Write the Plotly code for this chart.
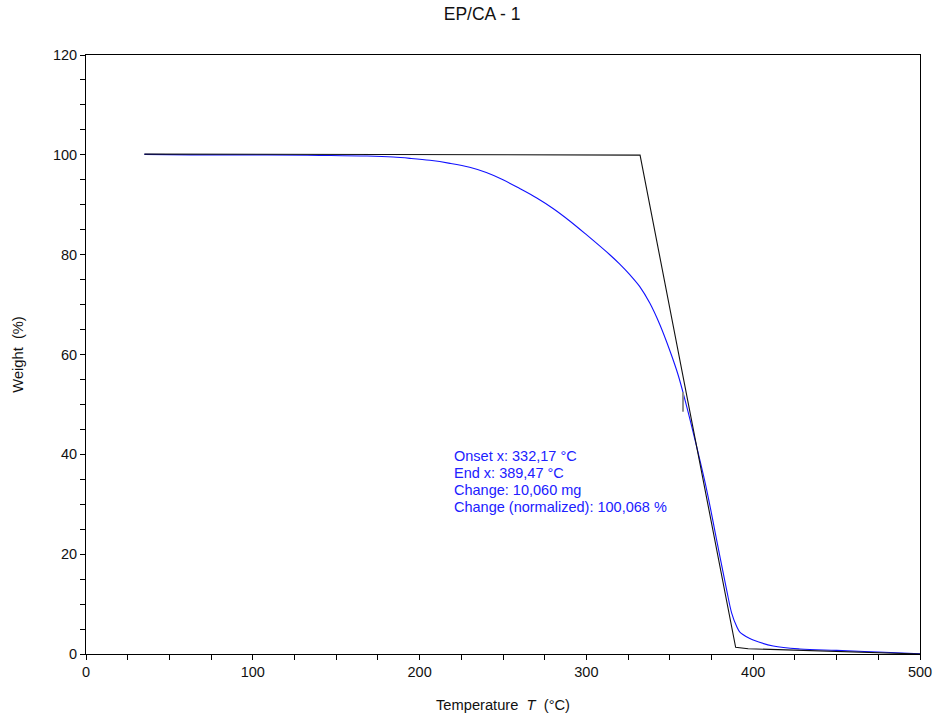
import plotly.graph_objects as go

# Measured TGA curve (blue)
tga_T = [35, 63, 109, 140, 168.5, 184.1, 194.2, 206.2, 218.2, 230, 240, 250, 260,
         270, 280, 290, 300, 314.2, 320, 326, 332, 338, 344, 350, 355, 359.1, 365.1,
         372.1, 378.1, 384.1, 387.1, 390.1, 392, 398, 400, 412, 428, 450, 475, 500]
tga_W = [100.1, 100.0, 100.0, 99.9, 99.76, 99.56, 99.30, 98.90, 98.29, 97.5, 96.45, 95.0, 93.25,
         91.4, 89.25, 86.75, 84.0, 79.93, 78.1, 76.0, 73.6, 70.3, 66.0, 60.8, 55.9, 50.9, 42.9,
         32.9, 22.8, 12.8, 8.2, 5.5, 4.4, 3.1, 2.8, 1.6, 1.0, 0.72, 0.4, 0.05]

# Onset / end construction line (black)
step_T = [35, 332.17, 389.47, 397, 500]
step_W = [100.15, 99.95, 1.35, 1.06, 0.0]

# Inflection marker (gray)
infl_T = [357.9]
infl_W = [50.5]

x_ticks = [0, 100, 200, 300, 400, 500]
y_ticks = [0, 20, 40, 60, 80, 100, 120]

info_lines = ["Onset x: 332,17 °C", "End x: 389,47 °C", "Change: 10,060 mg",
              "Change (normalized): 100,068 %"]
info_x = 219.4
info_y = [39.66, 36.26, 32.85, 29.45]

FONT = "Liberation Sans, Arial"

fig = go.Figure()
fig.add_trace(go.Scatter(x=tga_T, y=tga_W, mode="lines", line=dict(color="#1010ff", width=1.1),
                         line_shape="spline", showlegend=False, hoverinfo="skip"))
fig.add_trace(go.Scatter(x=step_T, y=step_W, mode="lines", line=dict(color="#101010", width=1.1),
                         showlegend=False, hoverinfo="skip"))
fig.add_trace(go.Scatter(x=infl_T, y=infl_W, mode="markers",
                         marker=dict(symbol="line-ns", size=14, line=dict(color="#909090", width=2)),
                         showlegend=False, hoverinfo="skip"))

for txt, yy in zip(info_lines, info_y):
    fig.add_annotation(x=info_x, y=yy, text=txt, showarrow=False,
                       xanchor="left", yanchor="middle", align="left",
                       font=dict(family=FONT, size=14.5, color="#2020ff"))

axis_common = dict(showgrid=False, zeroline=False, showline=True, linecolor="black", linewidth=1,
                   mirror=True, ticks="outside", ticklen=5, tickcolor="black",
                   tickfont=dict(family=FONT, size=14.5, color="#111"))

fig.update_xaxes(range=[0, 500], tickvals=x_ticks, **axis_common,
                 minor=dict(dtick=25, ticks="outside", ticklen=5, tickcolor="black"),
                 title=dict(text="Temperature  <i>T</i>  (°C)", standoff=20,
                            font=dict(family=FONT, size=14.7, color="#111")))
fig.update_yaxes(range=[0, 120], tickvals=y_ticks, **axis_common,
                 minor=dict(dtick=5, ticks="outside", ticklen=5, tickcolor="black"),
                 title=dict(text="Weight  (%)", standoff=25,
                            font=dict(family=FONT, size=14.7, color="#111")))

fig.update_layout(
    width=938, height=717,
    margin=dict(l=86, r=18, t=55, b=63, autoexpand=False),
    plot_bgcolor="white", paper_bgcolor="white",
    title=dict(text="EP/CA - 1", x=0.514, xanchor="center", y=1 - 14 / 717, yanchor="middle",
               font=dict(family=FONT, size=17.5, color="#111")),
)

# remove the default page margin so the figure fills the window exactly
fig.write_html("out.html", config={"displayModeBar": False},
               post_script="document.body.style.margin='0';document.body.style.overflow='hidden';")
